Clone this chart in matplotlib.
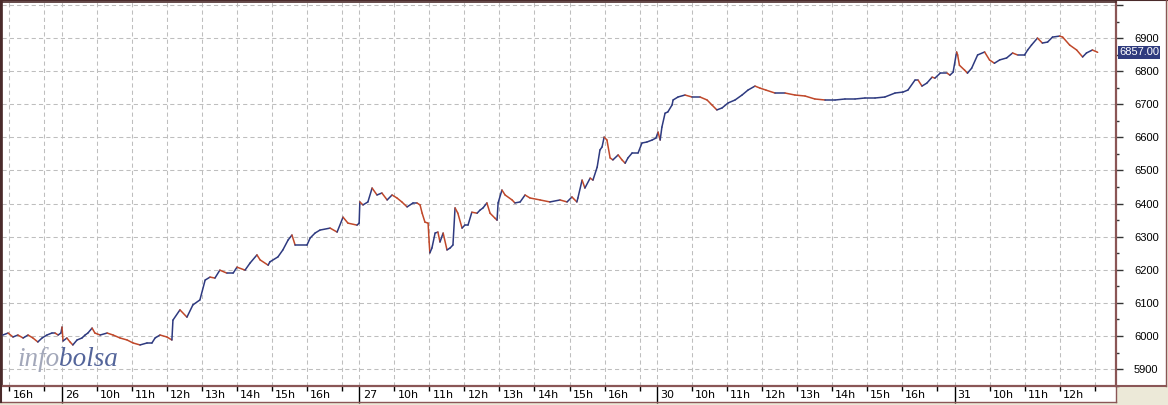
import matplotlib
matplotlib.use("Agg")
import matplotlib.pyplot as plt
import numpy as np
from matplotlib.collections import LineCollection
from matplotlib.patches import Rectangle
from matplotlib.lines import Line2D
from matplotlib.ticker import FixedLocator, MultipleLocator, FuncFormatter
from matplotlib.transforms import blended_transform_factory

# sessions: 9:00 - 17:30, one day after another on the x axis
day_labels = ["25", "26", "27", "30", "31"]
session_open = 9.0
session_len = 8.5

# clock hour / price per session
d25_h = [15.81, 15.96, 16.10, 16.24, 16.39, 16.53, 16.67, 16.81, 16.93, 17.07, 17.21, 17.30, 17.39, 17.47]
d25_p = [6003, 6009, 5997, 6003, 5994, 6003, 5994, 5982, 5994, 6003, 6009, 6009, 6003, 6009]

d26_h = [9.00, 9.03, 9.14, 9.23, 9.31, 9.43, 9.57, 9.66, 9.74, 9.86, 9.94, 10.09, 10.29, 10.46, 10.66,
         10.86, 11.03, 11.23, 11.43, 11.57, 11.66, 11.80, 12.00, 12.14, 12.17, 12.37, 12.57, 12.74, 12.94,
         13.09, 13.23, 13.37, 13.51, 13.71, 13.89, 14.00, 14.23, 14.37, 14.57, 14.66, 14.89, 14.94, 15.17,
         15.31, 15.46, 15.57, 15.66, 16.00, 16.09, 16.23, 16.37, 16.66, 16.86, 17.03, 17.17, 17.43, 17.49]
d26_p = [6027, 5985, 5994, 5982, 5973, 5988, 5994, 6003, 6009, 6024, 6009, 6003, 6009, 6003, 5994,
         5988, 5979, 5973, 5979, 5979, 5994, 6003, 5997, 5988, 6048, 6079, 6057, 6094, 6109,
         6169, 6178, 6175, 6199, 6190, 6190, 6208, 6199, 6220, 6245, 6230, 6214, 6224, 6239,
         6260, 6290, 6305, 6275, 6275, 6296, 6311, 6320, 6326, 6314, 6359, 6341, 6335, 6341]

d27_h = [9.01, 9.10, 9.24, 9.36, 9.50, 9.64, 9.79, 9.93, 10.07, 10.21, 10.36, 10.53, 10.64, 10.73, 10.79,
         10.87, 10.96, 10.99, 11.01, 11.07, 11.16, 11.24, 11.30, 11.39, 11.50, 11.59, 11.67, 11.73, 11.81,
         11.93, 12.01, 12.10, 12.21, 12.36, 12.44, 12.53, 12.64, 12.73, 12.87, 12.93, 12.96, 13.07, 13.16,
         13.36, 13.44, 13.59, 13.73, 13.87, 14.16, 14.44, 14.73, 14.93, 15.07, 15.21, 15.24, 15.36, 15.44,
         15.59, 15.67, 15.79, 15.87, 15.93, 15.99, 16.07, 16.16, 16.24, 16.39, 16.50, 16.59, 16.67, 16.79,
         16.96, 17.07, 17.21, 17.36, 17.47]
d27_p = [6405, 6396, 6405, 6447, 6426, 6432, 6411, 6426, 6417, 6405, 6390, 6402, 6402, 6396, 6371,
         6344, 6341, 6284, 6251, 6266, 6311, 6314, 6284, 6311, 6260, 6266, 6275, 6387, 6371,
         6326, 6335, 6335, 6374, 6371, 6380, 6387, 6402, 6371, 6356, 6350, 6402, 6441, 6426,
         6411, 6402, 6405, 6426, 6417, 6411, 6405, 6411, 6405, 6420, 6405, 6417, 6471, 6447,
         6477, 6471, 6510, 6562, 6571, 6601, 6592, 6538, 6532, 6547, 6532, 6522, 6538, 6553,
         6553, 6583, 6586, 6592, 6598]

d30_h = [9.03, 9.09, 9.14, 9.23, 9.31, 9.43, 9.46, 9.60, 9.80, 10.00, 10.23, 10.43, 10.57, 10.71, 10.86,
         11.03, 11.23, 11.43, 11.60, 11.80, 11.94, 12.11, 12.37, 12.66, 12.94, 13.23, 13.51, 13.80, 14.09,
         14.37, 14.66, 14.94, 15.23, 15.51, 15.80, 16.03, 16.17, 16.37, 16.46, 16.57, 16.71, 16.86, 16.94,
         17.09, 17.29, 17.37, 17.46]
d30_p = [6616, 6592, 6631, 6673, 6677, 6698, 6713, 6722, 6728, 6722, 6722, 6713, 6698, 6683, 6689,
         6704, 6713, 6728, 6743, 6755, 6749, 6743, 6734, 6734, 6728, 6725, 6716, 6713, 6713,
         6716, 6716, 6719, 6719, 6722, 6734, 6737, 6743, 6773, 6773, 6755, 6764, 6782, 6779,
         6794, 6794, 6788, 6797]

d31_h = [9.06, 9.09, 9.14, 9.29, 9.37, 9.49, 9.66, 9.86, 10.00, 10.14, 10.29, 10.49, 10.66, 10.80, 11.00,
         11.09, 11.20, 11.37, 11.51, 11.66, 11.80, 12.00, 12.09, 12.29, 12.49, 12.66, 12.77, 12.94, 13.09]
d31_p = [6858, 6849, 6818, 6803, 6794, 6809, 6849, 6858, 6834, 6824, 6834, 6840, 6855, 6849, 6849,
         6864, 6879, 6900, 6885, 6888, 6903, 6906, 6903, 6879, 6864, 6843, 6855, 6864, 6857]

last_price = 6857.00
x_range = (6.786, 38.614)
y_range = (5849, 7009)

up_color = "#2E3A80"
down_color = "#C0482A"
frame_color = "#8A5656"
grid_color = "#BEBEBE"

sessions = [(d25_h, d25_p), (d26_h, d26_p), (d27_h, d27_p), (d30_h, d30_p), (d31_h, d31_p)]


def pos(day, hour):
    return day * session_len + (np.asarray(hour) - session_open)


x = np.concatenate([pos(i, h) for i, (h, _) in enumerate(sessions)])
p = np.concatenate([np.asarray(pr, dtype=float) for _, pr in sessions])

W, H = 1168, 405
fig = plt.figure(figsize=(W / 100, H / 100), dpi=100, facecolor="#ECE9D8")


def fx(px):
    return px / W


def fy(py):
    return 1 - py / H


# white panels: chart + right price scale, and the time strip under it
fig.patches.append(Rectangle((0, fy(386)), fx(1166), fy(0) - fy(386),
                             transform=fig.transFigure, fc="white", ec="none", zorder=-5))
fig.patches.append(Rectangle((0, fy(402)), fx(1116), fy(386) - fy(402),
                             transform=fig.transFigure, fc="white", ec="none", zorder=-5))
for xs, ys, c, lw in [((0, 1), (1, 1), "#4A2A2A", 1.5),
                      (fx(np.array([1166, 1166])), fy(np.array([0, 386])), frame_color, 1.0),
                      (fx(np.array([1116, 1166])), fy(np.array([386, 386])), frame_color, 1.5),
                      (fx(np.array([0, 1116])), fy(np.array([402, 402])), frame_color, 1.0),
                      (fx(np.array([1116, 1116])), fy(np.array([386, 402])), frame_color, 1.0),
                      (fx(np.array([1, 1])), fy(np.array([0, 402])), "#4A2A2A", 1.5)]:
    fig.add_artist(Line2D(xs, ys, transform=fig.transFigure, color=c, lw=lw))

ax = fig.add_axes([fx(2), fy(386), fx(1116) - fx(2), fy(2) - fy(386)])
ax.set_facecolor("white")
ax.set_xlim(*x_range)
ax.set_ylim(*y_range)

for side in ["left", "top"]:
    ax.spines[side].set_color("#4A2A2A")
    ax.spines[side].set_linewidth(1.2)
for side in ["right", "bottom"]:
    ax.spines[side].set_color(frame_color)
    ax.spines[side].set_linewidth(1.6)

# x ticks: day opens (major), hours (minor)
day_pos = [pos(i, session_open) for i in range(len(day_labels))]
hour_pos = [pos(i, h) for i in range(len(day_labels)) for h in range(9, 18)]
ax.xaxis.set_major_locator(FixedLocator(day_pos))
ax.xaxis.set_minor_locator(FixedLocator(hour_pos))
ax.tick_params(axis="x", which="major", direction="out", length=12, width=1, color="black",
               labelbottom=False)
ax.tick_params(axis="x", which="minor", direction="out", length=3.5, width=1, color="black",
               labelbottom=False)

tr = blended_transform_factory(ax.transData, fig.transFigure)
for i, lab in enumerate(day_labels):
    for h in range(9, 17):
        xp = pos(i, h)
        if xp < x_range[0] or xp + 0.72 > x_range[1]:
            continue
        txt = lab if h == 9 else f"{h}h"
        ax.text(xp + 0.09, fy(394.5), txt, transform=tr, ha="left", va="center",
                fontsize=8, family="DejaVu Sans", color="black", clip_on=False)

# y axis on the right
ax.yaxis.tick_right()
ax.yaxis.set_major_locator(MultipleLocator(100))
ax.yaxis.set_minor_locator(MultipleLocator(50))
ax.yaxis.set_major_formatter(FuncFormatter(lambda v, _: "" if v > 6950 else f"{v:.0f}"))
ax.tick_params(axis="y", which="major", direction="out", length=5, width=1, color="#333333",
               labelsize=8, pad=8, labelcolor="black")
ax.tick_params(axis="y", which="minor", direction="out", length=2.5, width=1, color="#333333")
for t in ax.get_yticklabels():
    t.set_family("Liberation Sans")

ax.xaxis.grid(True, which="both", color=grid_color, linestyle=(0, (4, 3)), linewidth=0.75)
ax.yaxis.grid(True, which="major", color=grid_color, linestyle=(0, (4, 3)), linewidth=0.75)
ax.set_axisbelow(True)

# price line, blue when rising, red when falling
segs = np.stack([np.column_stack([x[:-1], p[:-1]]), np.column_stack([x[1:], p[1:]])], axis=1)
cols = np.where(np.diff(p) >= 0, up_color, down_color)
ax.add_collection(LineCollection(segs, colors=cols, linewidths=1.1, capstyle="round", zorder=3))

# last price tag
ax.text(1.0 + 3 / 1114, last_price, f"{last_price:.2f}",
        transform=blended_transform_factory(ax.transAxes, ax.transData),
        ha="left", va="center", fontsize=8, family="Liberation Sans", color="white",
        bbox=dict(boxstyle="square,pad=0.12", fc="#2F3B7E", ec="none"), clip_on=False, zorder=5)

# watermark
t1 = fig.text(fx(17), fy(366), "info", fontsize=19.5, style="italic", family="Liberation Serif",
              color="#A3A8BA", ha="left", va="baseline")
ax.annotate("bolsa", xy=(1, 0), xycoords=t1, ha="left", va="bottom", fontsize=19.5,
            style="italic", family="Liberation Serif", color="#54659A")

fig.savefig("out.png", dpi=100, facecolor=fig.get_facecolor())
